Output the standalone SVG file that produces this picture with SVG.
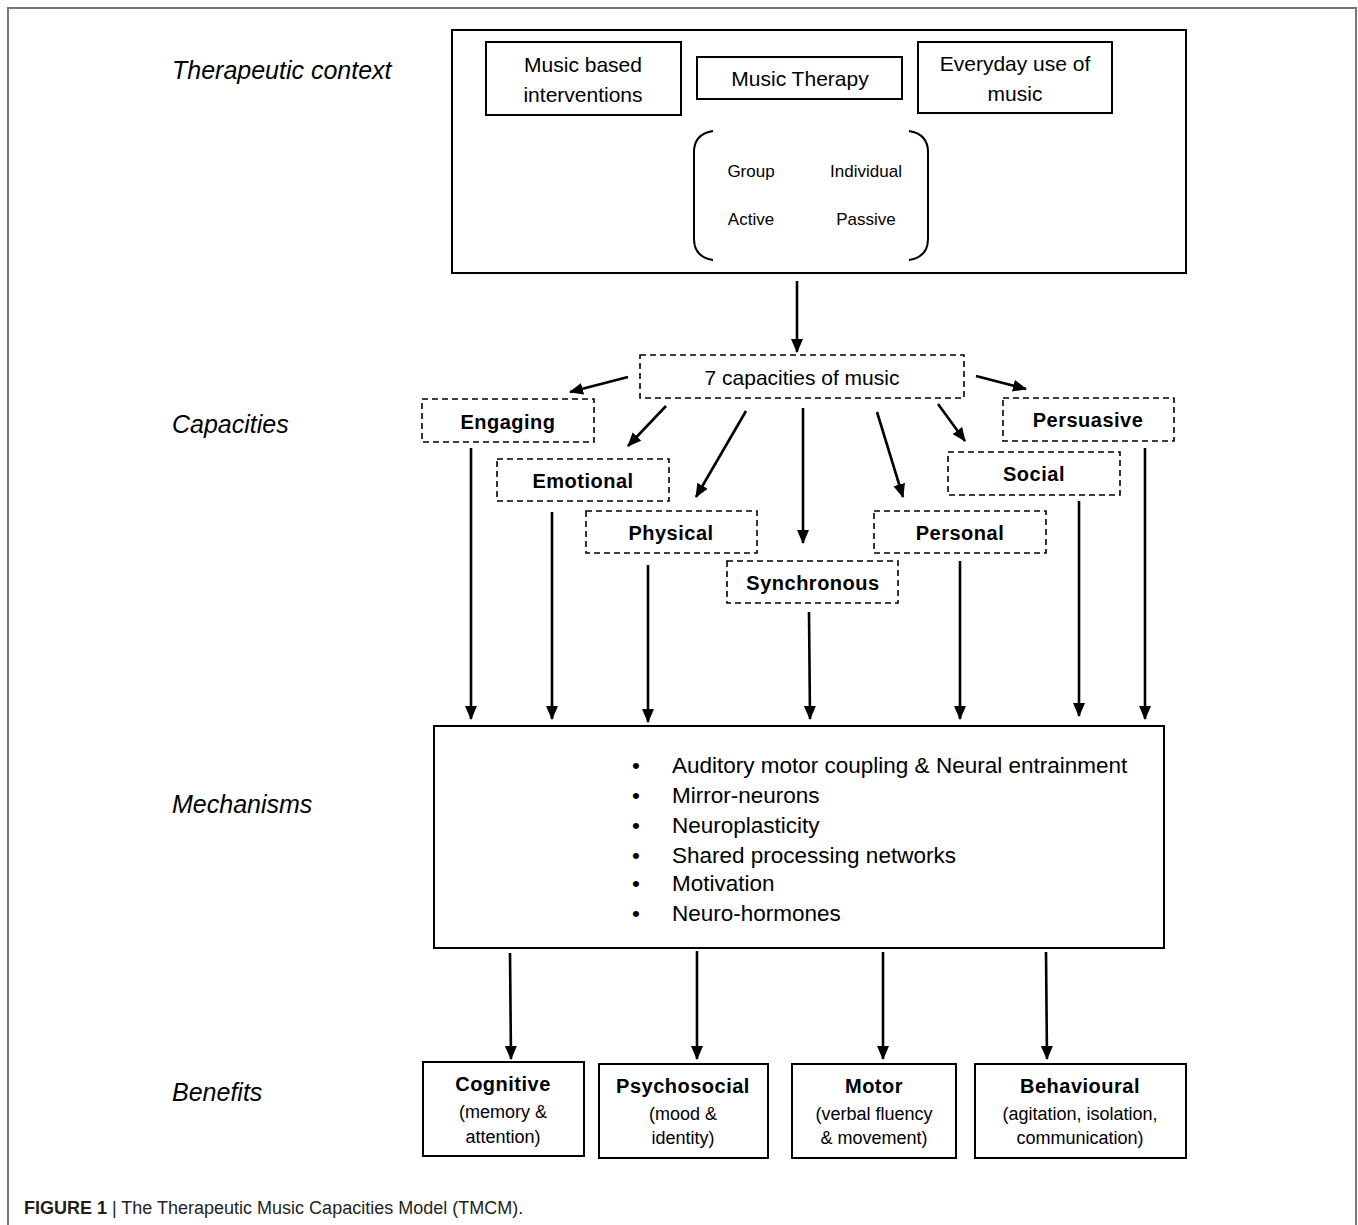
<svg xmlns="http://www.w3.org/2000/svg" width="1358" height="1225" viewBox="0 0 1358 1225">
<defs>
<marker id="ah" markerUnits="userSpaceOnUse" markerWidth="14" markerHeight="14" viewBox="0 0 14 14" refX="13" refY="7" orient="auto">
<path d="M0,1 L14,7 L0,13 Z" fill="#000"/>
</marker>
</defs>
<style>
.box{fill:#fff;stroke:#000;stroke-width:2}
.dbox{fill:#fff;stroke:#000;stroke-width:1.6;stroke-dasharray:6 4}
.t{font-family:"Liberation Sans",Arial,sans-serif;fill:#000;text-anchor:middle}
.lbl{font-family:"Liberation Sans",Arial,sans-serif;font-style:italic;font-size:25px;fill:#000}
.cap{font-family:"Liberation Sans",Arial,sans-serif;font-weight:bold;font-size:20px;fill:#000;text-anchor:middle;letter-spacing:0.5px}
.m{font-family:"Liberation Sans",Arial,sans-serif;font-size:22.5px;fill:#000}
.c{stroke:#000;stroke-width:2.6;fill:none;marker-end:url(#ah)}
</style>
<rect width="1358" height="1225" fill="#fff"/>
<path d="M8,1225 L8,8 L1356,8 L1356,1225" fill="none" stroke="#777" stroke-width="2"/>

<text class="lbl" x="172" y="79">Therapeutic context</text>
<text class="lbl" x="172" y="433">Capacities</text>
<text class="lbl" x="172" y="813">Mechanisms</text>
<text class="lbl" x="172" y="1101">Benefits</text>

<g id="context">
<rect class="box" x="452" y="30" width="734" height="243"/>
</g>
<g id="music-based">
<rect class="box" x="486" y="42" width="195" height="73"/>
<text class="t" font-size="21" x="583" y="72">Music based</text>
<text class="t" font-size="21" x="583" y="102">interventions</text>
</g>
<g id="music-therapy">
<rect class="box" x="697" y="57" width="205" height="42"/>
<text class="t" font-size="21" x="800" y="86">Music Therapy</text>
</g>
<g id="everyday">
<rect class="box" x="918" y="42" width="194" height="71"/>
<text class="t" font-size="21" x="1015" y="71">Everyday use of</text>
<text class="t" font-size="21" x="1015" y="101">music</text>
</g>
<g id="modes">
<path d="M713,131 Q694,134 694,152 L694,239 Q694,257 713,260" fill="none" stroke="#000" stroke-width="2"/>
<path d="M909,131 Q928,134 928,152 L928,239 Q928,257 909,260" fill="none" stroke="#000" stroke-width="2"/>
<text class="t" font-size="17" x="751" y="177">Group</text>
<text class="t" font-size="17" x="866" y="177">Individual</text>
<text class="t" font-size="17" x="751" y="225">Active</text>
<text class="t" font-size="17" x="866" y="225">Passive</text>
</g>

<g id="seven">
<rect class="dbox" x="640" y="355" width="324" height="43"/>
<text class="t" font-size="21" x="802" y="385">7 capacities of music</text>
</g>
<g id="engaging"><rect class="dbox" x="422" y="399" width="172" height="43"/><text class="cap" x="508" y="429">Engaging</text></g>
<g id="emotional"><rect class="dbox" x="497" y="459" width="172" height="42"/><text class="cap" x="583" y="488">Emotional</text></g>
<g id="physical"><rect class="dbox" x="586" y="511" width="171" height="42"/><text class="cap" x="671" y="540">Physical</text></g>
<g id="synchronous"><rect class="dbox" x="727" y="561" width="171" height="42"/><text class="cap" x="813" y="590">Synchronous</text></g>
<g id="personal"><rect class="dbox" x="874" y="511" width="172" height="42"/><text class="cap" x="960" y="540">Personal</text></g>
<g id="social"><rect class="dbox" x="948" y="452" width="172" height="43"/><text class="cap" x="1034" y="481">Social</text></g>
<g id="persuasive"><rect class="dbox" x="1003" y="398" width="171" height="43"/><text class="cap" x="1088" y="427">Persuasive</text></g>

<g id="mechanisms">
<rect class="box" x="434" y="726" width="730" height="222"/>
<g class="m">
<text x="632" y="773">•</text><text x="672" y="773">Auditory motor coupling &amp; Neural entrainment</text>
<text x="632" y="803">•</text><text x="672" y="803">Mirror-neurons</text>
<text x="632" y="833">•</text><text x="672" y="833">Neuroplasticity</text>
<text x="632" y="863">•</text><text x="672" y="863">Shared processing networks</text>
<text x="632" y="891">•</text><text x="672" y="891">Motivation</text>
<text x="632" y="921">•</text><text x="672" y="921">Neuro-hormones</text>
</g>
</g>

<g id="cognitive">
<rect class="box" x="423" y="1062" width="161" height="94"/>
<text class="cap" x="503" y="1091">Cognitive</text>
<text class="t" font-size="18" x="503" y="1118">(memory &amp;</text>
<text class="t" font-size="18" x="503" y="1143">attention)</text>
</g>
<g id="psychosocial">
<rect class="box" x="599" y="1064" width="169" height="94"/>
<text class="cap" x="683" y="1093">Psychosocial</text>
<text class="t" font-size="18" x="683" y="1120">(mood &amp;</text>
<text class="t" font-size="18" x="683" y="1144">identity)</text>
</g>
<g id="motor">
<rect class="box" x="792" y="1064" width="164" height="94"/>
<text class="cap" x="874" y="1093">Motor</text>
<text class="t" font-size="18" x="874" y="1120">(verbal fluency</text>
<text class="t" font-size="18" x="874" y="1144">&amp; movement)</text>
</g>
<g id="behavioural">
<rect class="box" x="975" y="1064" width="211" height="94"/>
<text class="cap" x="1080" y="1093">Behavioural</text>
<text class="t" font-size="18" x="1080" y="1120">(agitation, isolation,</text>
<text class="t" font-size="18" x="1080" y="1144">communication)</text>
</g>

<g id="connectors">
<line class="c" x1="797" y1="281" x2="797" y2="352"/>
<line class="c" x1="628" y1="377" x2="570" y2="392"/>
<line class="c" x1="666" y1="406" x2="628" y2="446"/>
<line class="c" x1="746" y1="411" x2="696" y2="497"/>
<line class="c" x1="803" y1="408" x2="803" y2="543"/>
<line class="c" x1="877" y1="412" x2="903" y2="497"/>
<line class="c" x1="938" y1="404" x2="965" y2="441"/>
<line class="c" x1="976" y1="376" x2="1026" y2="389"/>
<line class="c" x1="471" y1="448" x2="471" y2="719"/>
<line class="c" x1="552" y1="512" x2="552" y2="719"/>
<line class="c" x1="648" y1="565" x2="648" y2="722"/>
<line class="c" x1="809" y1="612" x2="810" y2="719"/>
<line class="c" x1="960" y1="561" x2="960" y2="719"/>
<line class="c" x1="1079" y1="501" x2="1079" y2="716"/>
<line class="c" x1="1145" y1="448" x2="1145" y2="719"/>
<line class="c" x1="510" y1="953" x2="511" y2="1059"/>
<line class="c" x1="697" y1="951" x2="697" y2="1059"/>
<line class="c" x1="883" y1="952" x2="883" y2="1059"/>
<line class="c" x1="1046" y1="952" x2="1047" y2="1059"/>
</g>

<text x="24" y="1214" font-family="'Liberation Sans',Arial,sans-serif" font-size="18" fill="#231f20"><tspan font-weight="bold">FIGURE 1</tspan> | The Therapeutic Music Capacities Model (TMCM).</text>
</svg>
